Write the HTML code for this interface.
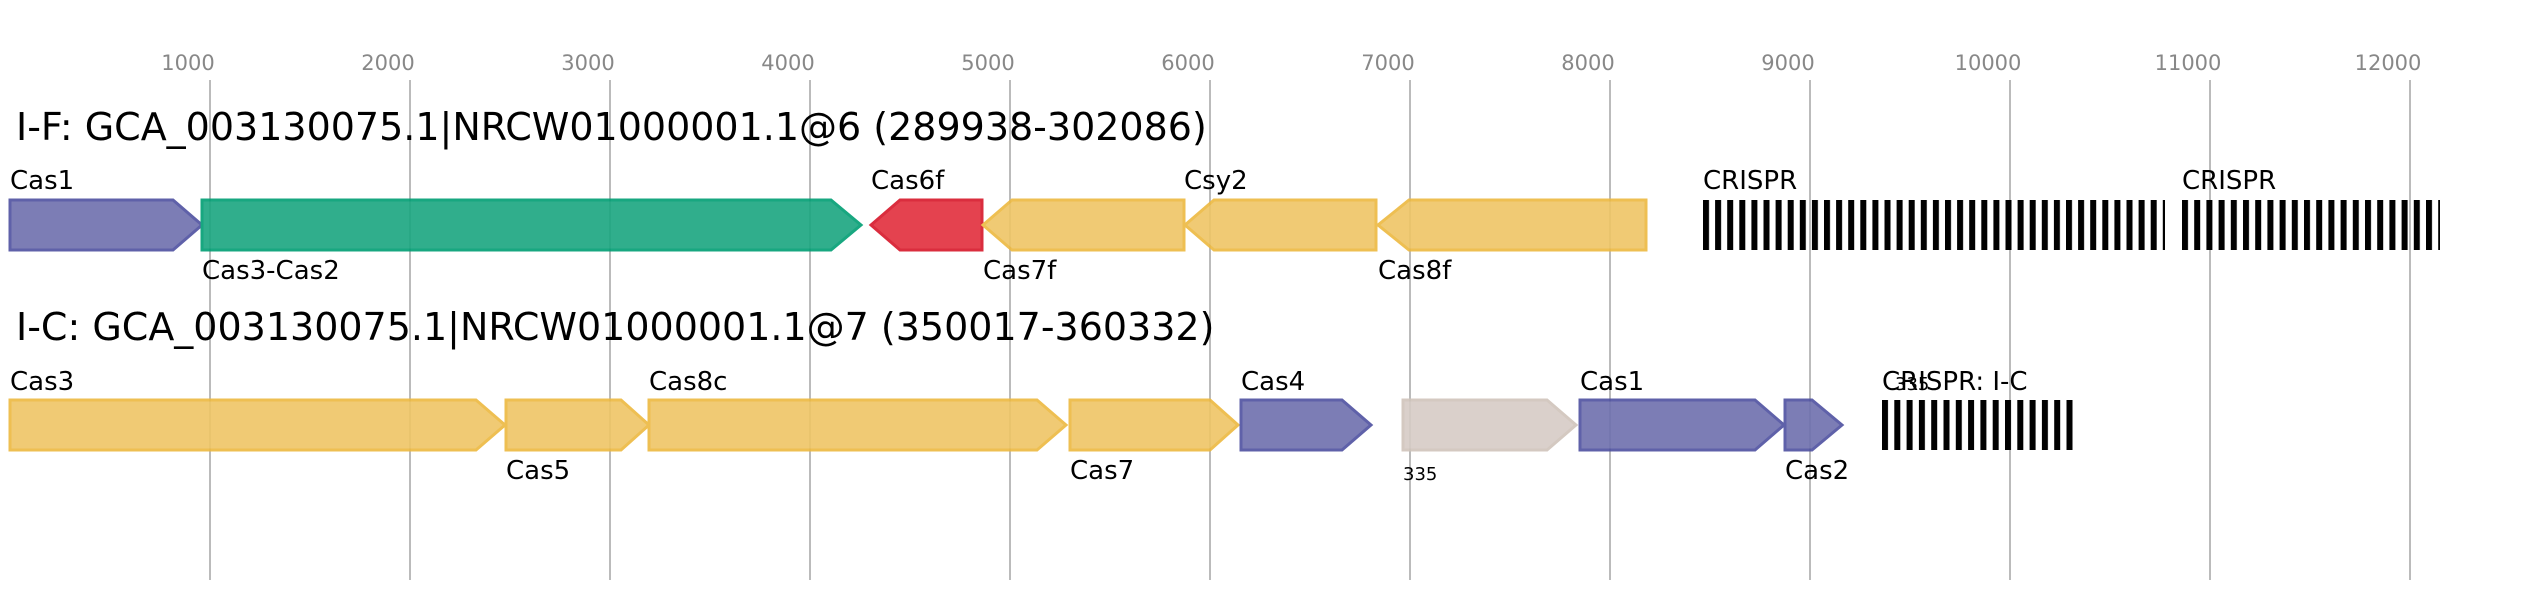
<!DOCTYPE html>
<html><head><meta charset="utf-8"><style>html,body{margin:0;padding:0;background:#fff}svg{display:block}</style></head><body>
<svg width="2530" height="600" xmlns="http://www.w3.org/2000/svg" font-family="DejaVu Sans, Liberation Sans, sans-serif">
<defs>
<pattern id="cr" x="1703" y="0" width="12.1" height="10" patternUnits="userSpaceOnUse"><rect x="0" y="0" width="6" height="10" fill="#000"/></pattern>
<pattern id="cr2" x="2182" y="0" width="12.2" height="10" patternUnits="userSpaceOnUse"><rect x="0" y="0" width="6" height="10" fill="#000"/></pattern>
<pattern id="cr3" x="1882" y="0" width="12.3" height="10" patternUnits="userSpaceOnUse"><rect x="0" y="0" width="6" height="10" fill="#000"/></pattern>
</defs>
<g stroke="#bbb" stroke-width="2">
<line x1="210" y1="80" x2="210" y2="580"/><line x1="410" y1="80" x2="410" y2="580"/><line x1="610" y1="80" x2="610" y2="580"/><line x1="810" y1="80" x2="810" y2="580"/><line x1="1010" y1="80" x2="1010" y2="580"/><line x1="1210" y1="80" x2="1210" y2="580"/><line x1="1410" y1="80" x2="1410" y2="580"/><line x1="1610" y1="80" x2="1610" y2="580"/><line x1="1810" y1="80" x2="1810" y2="580"/><line x1="2010" y1="80" x2="2010" y2="580"/><line x1="2210" y1="80" x2="2210" y2="580"/><line x1="2410" y1="80" x2="2410" y2="580"/>
</g>
<g fill="#888" font-size="21" text-anchor="middle">
<text x="188" y="70">1000</text><text x="388" y="70">2000</text><text x="588" y="70">3000</text><text x="788" y="70">4000</text><text x="988" y="70">5000</text><text x="1188" y="70">6000</text><text x="1388" y="70">7000</text><text x="1588" y="70">8000</text><text x="1788" y="70">9000</text><text x="1988" y="70">10000</text><text x="2188" y="70">11000</text><text x="2388" y="70">12000</text>
</g>
<g font-size="38" fill="#000"><text x="16" y="140">I-F: GCA_003130075.1|NRCW01000001.1@6 (289938-302086)</text><text x="16" y="340">I-C: GCA_003130075.1|NRCW01000001.1@7 (350017-360332)</text></g>
<g stroke-width="3" opacity="0.9">
<polygon points="10,200 173,200 202,225 173,250 10,250" fill="#6e70ae" stroke="#4e50a0"/>
<polygon points="202,200 831,200 861,225 831,250 202,250" fill="#1aa680" stroke="#009e73"/>
<polygon points="982,200 900,200 871,225 900,250 982,250" fill="#e22e3d" stroke="#d7172a"/>
<polygon points="1184,200 1012,200 983,225 1012,250 1184,250" fill="#efc565" stroke="#edb940"/>
<polygon points="1376,200 1214,200 1185,225 1214,250 1376,250" fill="#efc565" stroke="#edb940"/>
<polygon points="1646,200 1409,200 1378,225 1409,250 1646,250" fill="#efc565" stroke="#edb940"/>
<polygon points="10,400 476,400 505,425 476,450 10,450" fill="#efc565" stroke="#edb940"/>
<polygon points="506,400 621,400 649,425 621,450 506,450" fill="#efc565" stroke="#edb940"/>
<polygon points="649,400 1037,400 1066,425 1037,450 649,450" fill="#efc565" stroke="#edb940"/>
<polygon points="1070,400 1210,400 1238,425 1210,450 1070,450" fill="#efc565" stroke="#edb940"/>
<polygon points="1241,400 1342,400 1371,425 1342,450 1241,450" fill="#6e70ae" stroke="#4e50a0"/>
<polygon points="1403,400 1547,400 1576,425 1547,450 1403,450" fill="#d6ccc6" stroke="#d0c4bb"/>
<polygon points="1580,400 1755,400 1784,425 1755,450 1580,450" fill="#6e70ae" stroke="#4e50a0"/>
<polygon points="1785,400 1812,400 1842,425 1812,450 1785,450" fill="#6e70ae" stroke="#4e50a0"/>
</g>
<rect x="1703" y="200" width="462" height="50" fill="url(#cr)"/>
<rect x="2182" y="200" width="258" height="50" fill="url(#cr2)"/>
<rect x="1882" y="400" width="192" height="50" fill="url(#cr3)"/>
<g font-size="26" fill="#000">
<text x="10" y="189">Cas1</text><text x="202" y="279">Cas3-Cas2</text><text x="871" y="189">Cas6f</text><text x="983" y="279">Cas7f</text><text x="1184" y="189">Csy2</text><text x="1378" y="279">Cas8f</text><text x="1703" y="189">CRISPR</text><text x="2182" y="189">CRISPR</text>
<text x="10" y="390">Cas3</text><text x="506" y="479">Cas5</text><text x="649" y="390">Cas8c</text><text x="1070" y="479">Cas7</text><text x="1241" y="390">Cas4</text><text x="1580" y="390">Cas1</text><text x="1785" y="479">Cas2</text><text x="1882" y="390">CRISPR: I-C</text>
<text x="1403" y="480" font-size="18">335</text><text x="1895" y="390" font-size="18">335</text>
</g>
</svg>
</body></html>
